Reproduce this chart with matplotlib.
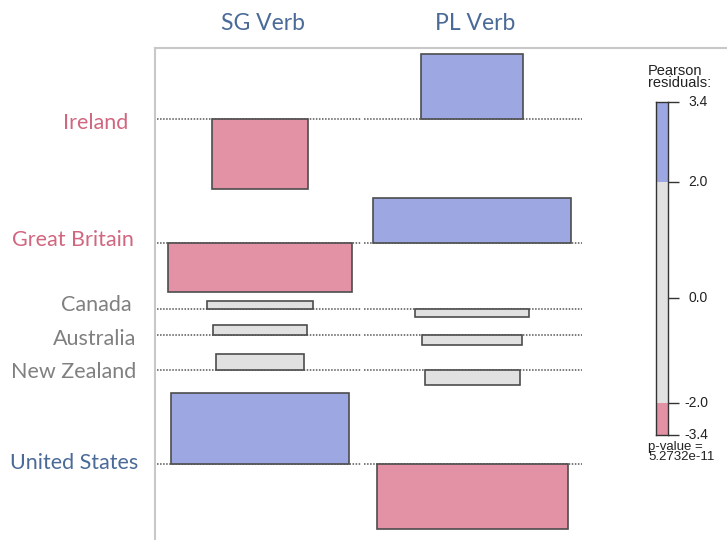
import numpy as np
import matplotlib
matplotlib.use("Agg")
import matplotlib.pyplot as plt

# --- DATA (Pearson residuals, sqrt of expected counts) ---
countries = ["Ireland", "Great Britain", "Canada", "Australia", "New Zealand", "United States"]
verbs = ["SG Verb", "PL Verb"]
res_sg = [-3.38, -2.38, 0.39, 0.49, 0.78, 3.42]
res_pl = [3.18, 2.21, -0.39, -0.49, -0.73, -3.18]
width_sg = [9.6, 18.4, 10.6, 9.4, 8.8, 17.8]
width_pl = [10.2, 19.8, 11.4, 10.0, 9.5, 19.1]
legend_breaks = [-3.4, -2.0, 0.0, 2.0, 3.4]
p_value = "5.2732e-11"

label_colors = ["#D0667F", "#D0667F", "#808080", "#808080", "#808080", "#4A6A98"]
header_color = "#4A6A98"
BLUE, GRAY, PINK = "#9DA8E2", "#E1E1E1", "#E292A4"

# hand placed row labels (pixel nudges)
label_right_px = [128, 134, 132, 136, 136, 138]
label_dy_px = [4, -3, -4, 4, 2, -1]


def shade(r):
    if r > 2:
        return BLUE
    if r < -2:
        return PINK
    return GRAY


W, H, DPI = 727, 540, 100
fig = plt.figure(figsize=(W / DPI, H / DPI), dpi=DPI)

# main panel
px_x, px_y = 10.0, 20.6           # pixels per unit
ax_l, ax_t, ax_b = 155, 48, 545
ax = fig.add_axes([ax_l / W, (H - ax_b) / H, (W - ax_l) / W, (ax_b - ax_t) / H])
ax.set_xlim(0, (W - ax_l) / px_x)
ax.set_ylim(-(ax_b - ax_t) / px_y, 0)
ax.set_xticks([])
ax.set_yticks([])
for s in ["right", "bottom"]:
    ax.spines[s].set_visible(False)
for s in ["left", "top"]:
    ax.spines[s].set_color("#C8C8C8")
    ax.spines[s].set_linewidth(1.5)

# row baselines from residuals
pad_top, row_gap = 0.29, 0.41
res = np.array([res_sg, res_pl]).T
baselines = []
y = -pad_top
for r in res:
    y -= max(r.max(), 0)
    baselines.append(y)
    y -= max(-r.min(), 0)
    y -= row_gap

# column positions from widths
pad_l, col_gap, pad_r = 1.3, 2.1, 1.2
w_max = [max(width_sg), max(width_pl)]
sg_left = 0.0
sg_right = pad_l + w_max[0] + col_gap / 2
pl_right = sg_right + col_gap / 2 + w_max[1] + pad_r
bounds = [(sg_left, sg_right), (sg_right, pl_right)]
centers = [pad_l + w_max[0] / 2, sg_right + col_gap / 2 + w_max[1] / 2]

for j, (vals, widths) in enumerate([(res_sg, width_sg), (res_pl, width_pl)]):
    lo, hi = bounds[j]
    ax.hlines(baselines, lo + 0.15, hi - 0.15, colors="#555555",
              linestyles=(0, (1, 1)), linewidth=1.1, zorder=1)
    ax.bar([centers[j]] * len(vals), vals, width=widths, bottom=baselines,
           color=[shade(v) for v in vals], edgecolor="#4D4D4D", linewidth=1.2, zorder=2)

# labels
trans_rows = matplotlib.transforms.blended_transform_factory(fig.transFigure, ax.transData)
for name, b, c, xr, dy in zip(countries, baselines, label_colors, label_right_px, label_dy_px):
    ax.text(xr / W, b - dy / px_y, name, transform=trans_rows, ha="right", va="center",
            fontsize=15.5, family="Lato", color=c)

trans_cols = matplotlib.transforms.blended_transform_factory(ax.transData, fig.transFigure)
for name, cx in zip(verbs, centers):
    ax.text(cx + 0.3, 1 - 23 / H, name, transform=trans_cols, ha="center", va="center",
            fontsize=16.5, family="Lato", color=header_color)

# legend bar
lg = fig.add_axes([656 / W, (H - 435) / H, 12 / W, 333 / H])
frac = [0, 0.096, 0.411, 0.760, 1.0]
fwd = lambda v: np.interp(v, legend_breaks, frac)
inv = lambda f: np.interp(f, frac, legend_breaks)
lg.set_yscale("function", functions=(fwd, inv))
lg.set_ylim(legend_breaks[0], legend_breaks[-1])
lg.set_xlim(0, 1)
for lo, hi in zip(legend_breaks[:-1], legend_breaks[1:]):
    lg.axhspan(lo, hi, color=shade((lo + hi) / 2), lw=0)
lg.set_xticks([])
lg.yaxis.tick_right()
lg.set_yticks(legend_breaks)
lg.set_yticklabels([])
lg.tick_params(axis="y", length=8, width=1, color="#333333")
for s in lg.spines.values():
    s.set_color("#333333")
    s.set_linewidth(1)
for v in legend_breaks:
    lg.text((708 - 656) / 12, v, f"{v:.1f}", transform=lg.get_yaxis_transform(),
            ha="right", va="center", fontsize=10, family="Liberation Sans", color="#222222")

fig.text(648 / W, 1 - 64 / H, "Pearson\nresiduals:", ha="left", va="top",
         fontsize=10.5, family="Liberation Sans", linespacing=0.8, color="#222222")
fig.text(648 / W, 1 - 441 / H, "p-value =\n" + p_value, ha="left", va="top",
         fontsize=9.5, family="Liberation Sans", linespacing=0.8, color="#222222")

fig.savefig("out.png", dpi=DPI)
